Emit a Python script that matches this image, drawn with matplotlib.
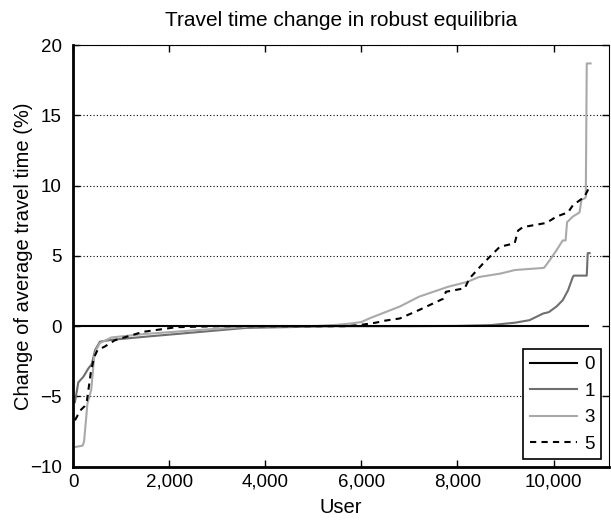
import matplotlib.pyplot as plt
from matplotlib.ticker import FuncFormatter

plt.rcParams['font.family'] = ['Liberation Sans', 'DejaVu Sans']

# users (sorted) and change of average travel time (%)
users_0 = [0, 10720]
change_0 = [0, 0]

users_1 = [40, 110, 215, 320, 390, 460, 560, 800, 1500, 2500, 3600, 5500, 7000,
           8000, 8700, 9200, 9500, 9780, 9900, 10060, 10190, 10300, 10400,
           10420, 10690, 10710, 10750]
change_1 = [-5.4, -4.0, -3.6, -3.0, -2.7, -1.7, -1.1, -0.97, -0.75, -0.45, -0.12,
            0.0, 0.0, 0.02, 0.08, 0.25, 0.43, 0.9, 1.0, 1.4, 1.85, 2.55, 3.5,
            3.6, 3.6, 5.2, 5.2]

users_3 = [40, 200, 230, 300, 380, 440, 480, 560, 800, 1500, 2500, 3800, 5000,
           5500, 5800, 6000, 6200, 6500, 6800, 7200, 7800, 8200, 8450, 8900,
           9200, 9800, 9920, 10060, 10190, 10250, 10280, 10400, 10540, 10580,
           10650, 10670, 10690, 10770]
change_3 = [-8.6, -8.5, -8.2, -5.5, -4.5, -2.2, -1.7, -1.2, -0.8, -0.55, -0.3,
            0.0, 0.0, 0.1, 0.2, 0.3, 0.6, 1.0, 1.4, 2.1, 2.8, 3.15, 3.5, 3.75,
            4.0, 4.15, 4.7, 5.4, 6.1, 6.1, 7.4, 7.8, 8.1, 9.0, 9.1, 9.2, 18.7,
            18.7]

users_5 = [40, 150, 240, 290, 370, 440, 510, 660, 870, 1460, 2150, 3000, 5700,
           6000, 6300, 6500, 6800, 7200, 7700, 7760, 8150, 8250, 8530, 8880,
           9190, 9260, 9360, 9850, 10060, 10300, 10400, 10640, 10760]
change_5 = [-6.7, -6.0, -5.7, -5.3, -3.3, -2.2, -1.7, -1.45, -1.0, -0.4, -0.07,
            0.0, 0.0, 0.1, 0.25, 0.4, 0.55, 1.15, 1.95, 2.45, 2.7, 3.4, 4.45,
            5.65, 5.9, 6.8, 7.05, 7.35, 7.8, 8.1, 8.6, 9.2, 10.0]

x_ticks = [0, 2000, 4000, 6000, 8000, 10000]
y_ticks = [-10, -5, 0, 5, 10, 15, 20]

fig = plt.figure(figsize=(6.11, 5.25), dpi=100)
ax = fig.add_axes([0.1195, 0.111, 0.877, 0.803])

for y in [-5, 5, 10, 15, 20]:
    ax.axhline(y, color='black', lw=0.8, ls=(0, (1, 2)), zorder=1)

ax.plot(users_0, change_0, color='black', lw=1.5, label='0', zorder=3)
ax.plot(users_1, change_1, color='#6e6e6e', lw=1.5, label='1', zorder=2)
ax.plot(users_3, change_3, color='#a9a9a9', lw=1.5, label='3', zorder=2)
ax.plot(users_5, change_5, color='black', lw=1.5, ls=(0, (3, 2.5)), label='5', zorder=4)

ax.set_xlim(0, 11150)
ax.set_ylim(-10, 20)
ax.set_xticks(x_ticks)
ax.set_yticks(y_ticks)
ax.xaxis.set_major_formatter(FuncFormatter(lambda v, p: f"{int(v):,}"))
ax.yaxis.set_major_formatter(FuncFormatter(lambda v, p: f"{int(v)}".replace('-', '\u2212')))
ax.tick_params(direction='in', top=True, right=True, length=5, width=1,
               labelsize=13.5)
ax.tick_params(axis='y', pad=8)
ax.tick_params(axis='x', pad=5)

ax.spines['left'].set_linewidth(2)
ax.spines['bottom'].set_linewidth(2)
ax.spines['top'].set_linewidth(0.8)
ax.spines['right'].set_linewidth(0.8)

ax.set_title('Travel time change in robust equilibria', fontsize=15, pad=14)
ax.set_xlabel('User', fontsize=14.5, labelpad=5)
ax.set_ylabel('Change of average travel time (%)', fontsize=14.5)
ax.yaxis.set_label_coords(-0.075, 0.5)

leg = ax.legend(loc='lower right', fontsize=13.5, handlelength=2.5, frameon=True,
                fancybox=False, edgecolor='black', framealpha=1,
                borderaxespad=0.4, labelspacing=0.5, handletextpad=0.4,
                borderpad=0.35)
leg.get_frame().set_linewidth(1.2)

fig.savefig('out.png', dpi=100)
